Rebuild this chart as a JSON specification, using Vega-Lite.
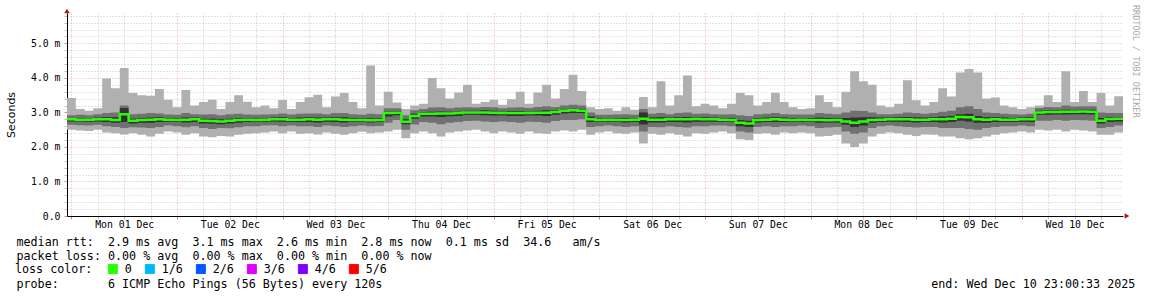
{
"$schema": "https://vega.github.io/schema/vega-lite/v6.json",
"width": 1056, "height": 203,
"autosize": {"type": "none"},
"padding": {"left": 67, "top": 13, "right": 29, "bottom": 81},
"background": "white",
"config": {"view": {"stroke": null}},
"title": {"text": "RRDTOOL / TOBI OETIKER", "orient": "right", "anchor": "start", "frame": "group", "color": "#aaaaaa", "font": "DejaVu Sans Mono", "fontSize": 8.5, "fontWeight": "normal", "offset": -3, "dx": -8},
"data": {"values": [
{"t":"2025-11-30T23:00:00Z","a":2.5,"b":2.64,"c":2.74,"m":2.8,"d":2.84,"e":2.92,"f":3.42},
{"t":"2025-12-01T01:00:00Z","a":2.48,"b":2.63,"c":2.74,"m":2.79,"d":2.84,"e":2.93,"f":3.1},
{"t":"2025-12-01T03:00:00Z","a":2.46,"b":2.62,"c":2.73,"m":2.79,"d":2.83,"e":2.92,"f":3.05},
{"t":"2025-12-01T05:00:00Z","a":2.5,"b":2.64,"c":2.74,"m":2.8,"d":2.85,"e":2.95,"f":3.12},
{"t":"2025-12-01T07:00:00Z","a":2.42,"b":2.6,"c":2.72,"m":2.8,"d":2.86,"e":2.98,"f":3.98},
{"t":"2025-12-01T09:00:00Z","a":2.4,"b":2.58,"c":2.7,"m":2.78,"d":2.86,"e":3.0,"f":3.7},
{"t":"2025-12-01T11:00:00Z","a":2.36,"b":2.55,"c":2.72,"m":2.95,"d":3.13,"e":3.2,"f":4.29},
{"t":"2025-12-01T13:00:00Z","a":2.4,"b":2.57,"c":2.68,"m":2.76,"d":2.82,"e":2.95,"f":3.56},
{"t":"2025-12-01T15:00:00Z","a":2.35,"b":2.56,"c":2.7,"m":2.78,"d":2.84,"e":2.96,"f":3.5},
{"t":"2025-12-01T17:00:00Z","a":2.3,"b":2.55,"c":2.7,"m":2.79,"d":2.85,"e":2.98,"f":3.48},
{"t":"2025-12-01T19:00:00Z","a":2.38,"b":2.58,"c":2.72,"m":2.8,"d":2.86,"e":2.97,"f":3.68},
{"t":"2025-12-01T21:00:00Z","a":2.45,"b":2.62,"c":2.73,"m":2.79,"d":2.84,"e":2.94,"f":3.37},
{"t":"2025-12-01T23:00:00Z","a":2.42,"b":2.6,"c":2.72,"m":2.78,"d":2.83,"e":2.93,"f":3.15},
{"t":"2025-12-02T01:00:00Z","a":2.35,"b":2.57,"c":2.71,"m":2.79,"d":2.85,"e":2.98,"f":3.65},
{"t":"2025-12-02T03:00:00Z","a":2.4,"b":2.6,"c":2.72,"m":2.8,"d":2.85,"e":2.95,"f":3.2},
{"t":"2025-12-02T05:00:00Z","a":2.3,"b":2.55,"c":2.68,"m":2.76,"d":2.82,"e":2.94,"f":3.3},
{"t":"2025-12-02T07:00:00Z","a":2.28,"b":2.52,"c":2.67,"m":2.75,"d":2.82,"e":2.95,"f":3.37},
{"t":"2025-12-02T09:00:00Z","a":2.32,"b":2.55,"c":2.66,"m":2.74,"d":2.8,"e":2.92,"f":3.1},
{"t":"2025-12-02T11:00:00Z","a":2.3,"b":2.54,"c":2.68,"m":2.76,"d":2.82,"e":2.95,"f":3.3},
{"t":"2025-12-02T13:00:00Z","a":2.35,"b":2.57,"c":2.7,"m":2.78,"d":2.84,"e":2.96,"f":3.5},
{"t":"2025-12-02T15:00:00Z","a":2.38,"b":2.6,"c":2.72,"m":2.79,"d":2.84,"e":2.94,"f":3.31},
{"t":"2025-12-02T17:00:00Z","a":2.4,"b":2.6,"c":2.72,"m":2.78,"d":2.83,"e":2.93,"f":3.15},
{"t":"2025-12-02T19:00:00Z","a":2.42,"b":2.62,"c":2.73,"m":2.79,"d":2.84,"e":2.94,"f":3.2},
{"t":"2025-12-02T21:00:00Z","a":2.45,"b":2.63,"c":2.74,"m":2.8,"d":2.85,"e":2.95,"f":3.12},
{"t":"2025-12-02T23:00:00Z","a":2.4,"b":2.6,"c":2.73,"m":2.8,"d":2.86,"e":2.97,"f":3.36},
{"t":"2025-12-03T01:00:00Z","a":2.45,"b":2.62,"c":2.73,"m":2.79,"d":2.84,"e":2.94,"f":3.1},
{"t":"2025-12-03T03:00:00Z","a":2.38,"b":2.6,"c":2.72,"m":2.79,"d":2.85,"e":2.96,"f":3.3},
{"t":"2025-12-03T05:00:00Z","a":2.4,"b":2.6,"c":2.72,"m":2.8,"d":2.86,"e":2.97,"f":3.44},
{"t":"2025-12-03T07:00:00Z","a":2.36,"b":2.58,"c":2.71,"m":2.79,"d":2.85,"e":2.97,"f":3.51},
{"t":"2025-12-03T09:00:00Z","a":2.42,"b":2.62,"c":2.73,"m":2.8,"d":2.85,"e":2.95,"f":3.15},
{"t":"2025-12-03T11:00:00Z","a":2.38,"b":2.6,"c":2.72,"m":2.8,"d":2.86,"e":2.98,"f":3.46},
{"t":"2025-12-03T13:00:00Z","a":2.35,"b":2.58,"c":2.71,"m":2.79,"d":2.86,"e":2.98,"f":3.56},
{"t":"2025-12-03T15:00:00Z","a":2.4,"b":2.6,"c":2.72,"m":2.78,"d":2.84,"e":2.95,"f":3.3},
{"t":"2025-12-03T17:00:00Z","a":2.44,"b":2.62,"c":2.72,"m":2.78,"d":2.83,"e":2.93,"f":3.12},
{"t":"2025-12-03T19:00:00Z","a":2.4,"b":2.6,"c":2.71,"m":2.77,"d":2.83,"e":2.96,"f":4.36},
{"t":"2025-12-03T21:00:00Z","a":2.42,"b":2.61,"c":2.72,"m":2.78,"d":2.84,"e":2.95,"f":3.2},
{"t":"2025-12-03T23:00:00Z","a":2.45,"b":2.7,"c":2.88,"m":2.98,"d":3.03,"e":3.12,"f":3.6},
{"t":"2025-12-04T01:00:00Z","a":2.5,"b":2.78,"c":2.92,"m":2.99,"d":3.04,"e":3.12,"f":3.29},
{"t":"2025-12-04T03:00:00Z","a":2.25,"b":2.5,"c":2.66,"m":2.73,"d":2.8,"e":2.92,"f":3.1},
{"t":"2025-12-04T05:00:00Z","a":2.4,"b":2.65,"c":2.82,"m":2.9,"d":2.96,"e":3.06,"f":3.2},
{"t":"2025-12-04T07:00:00Z","a":2.45,"b":2.72,"c":2.88,"m":2.96,"d":3.01,"e":3.1,"f":3.25},
{"t":"2025-12-04T09:00:00Z","a":2.4,"b":2.7,"c":2.88,"m":2.96,"d":3.02,"e":3.14,"f":4.0},
{"t":"2025-12-04T11:00:00Z","a":2.3,"b":2.66,"c":2.87,"m":2.97,"d":3.03,"e":3.15,"f":3.7},
{"t":"2025-12-04T13:00:00Z","a":2.42,"b":2.7,"c":2.89,"m":2.97,"d":3.02,"e":3.12,"f":3.4},
{"t":"2025-12-04T15:00:00Z","a":2.45,"b":2.72,"c":2.9,"m":2.98,"d":3.03,"e":3.14,"f":3.58},
{"t":"2025-12-04T17:00:00Z","a":2.48,"b":2.75,"c":2.93,"m":3.0,"d":3.05,"e":3.15,"f":3.8},
{"t":"2025-12-04T19:00:00Z","a":2.5,"b":2.76,"c":2.93,"m":3.0,"d":3.05,"e":3.14,"f":3.25},
{"t":"2025-12-04T21:00:00Z","a":2.45,"b":2.74,"c":2.92,"m":3.0,"d":3.06,"e":3.16,"f":3.3},
{"t":"2025-12-04T23:00:00Z","a":2.4,"b":2.72,"c":2.91,"m":2.99,"d":3.05,"e":3.15,"f":3.37},
{"t":"2025-12-05T01:00:00Z","a":2.45,"b":2.74,"c":2.91,"m":2.98,"d":3.03,"e":3.12,"f":3.22},
{"t":"2025-12-05T03:00:00Z","a":2.42,"b":2.72,"c":2.9,"m":2.98,"d":3.04,"e":3.14,"f":3.38},
{"t":"2025-12-05T05:00:00Z","a":2.38,"b":2.7,"c":2.9,"m":2.98,"d":3.04,"e":3.15,"f":3.6},
{"t":"2025-12-05T07:00:00Z","a":2.45,"b":2.73,"c":2.91,"m":2.98,"d":3.03,"e":3.13,"f":3.25},
{"t":"2025-12-05T09:00:00Z","a":2.4,"b":2.72,"c":2.91,"m":2.99,"d":3.05,"e":3.16,"f":3.58},
{"t":"2025-12-05T11:00:00Z","a":2.38,"b":2.7,"c":2.9,"m":2.99,"d":3.06,"e":3.18,"f":3.8},
{"t":"2025-12-05T13:00:00Z","a":2.45,"b":2.75,"c":2.93,"m":3.01,"d":3.06,"e":3.16,"f":3.4},
{"t":"2025-12-05T15:00:00Z","a":2.48,"b":2.78,"c":2.97,"m":3.05,"d":3.1,"e":3.2,"f":3.68},
{"t":"2025-12-05T17:00:00Z","a":2.45,"b":2.78,"c":2.98,"m":3.06,"d":3.11,"e":3.22,"f":4.09},
{"t":"2025-12-05T19:00:00Z","a":2.5,"b":2.8,"c":2.98,"m":3.05,"d":3.1,"e":3.2,"f":3.62},
{"t":"2025-12-05T21:00:00Z","a":2.35,"b":2.58,"c":2.72,"m":2.8,"d":2.88,"e":3.0,"f":3.15},
{"t":"2025-12-05T23:00:00Z","a":2.42,"b":2.6,"c":2.72,"m":2.78,"d":2.83,"e":2.93,"f":3.1},
{"t":"2025-12-06T01:00:00Z","a":2.45,"b":2.62,"c":2.73,"m":2.79,"d":2.84,"e":2.93,"f":3.12},
{"t":"2025-12-06T03:00:00Z","a":2.4,"b":2.6,"c":2.72,"m":2.78,"d":2.83,"e":2.94,"f":3.05},
{"t":"2025-12-06T05:00:00Z","a":2.38,"b":2.58,"c":2.71,"m":2.78,"d":2.84,"e":2.95,"f":3.15},
{"t":"2025-12-06T07:00:00Z","a":2.42,"b":2.6,"c":2.72,"m":2.79,"d":2.84,"e":2.93,"f":3.08},
{"t":"2025-12-06T09:00:00Z","a":2.1,"b":2.45,"c":2.65,"m":2.82,"d":3.0,"e":3.1,"f":3.45},
{"t":"2025-12-06T11:00:00Z","a":2.38,"b":2.58,"c":2.71,"m":2.79,"d":2.85,"e":2.96,"f":3.15},
{"t":"2025-12-06T13:00:00Z","a":2.35,"b":2.57,"c":2.71,"m":2.79,"d":2.86,"e":2.98,"f":3.9},
{"t":"2025-12-06T15:00:00Z","a":2.4,"b":2.6,"c":2.72,"m":2.8,"d":2.85,"e":2.95,"f":3.2},
{"t":"2025-12-06T17:00:00Z","a":2.35,"b":2.58,"c":2.72,"m":2.8,"d":2.86,"e":2.98,"f":3.5},
{"t":"2025-12-06T19:00:00Z","a":2.3,"b":2.56,"c":2.71,"m":2.8,"d":2.87,"e":3.0,"f":4.07},
{"t":"2025-12-06T21:00:00Z","a":2.4,"b":2.6,"c":2.73,"m":2.81,"d":2.86,"e":2.96,"f":3.18},
{"t":"2025-12-06T23:00:00Z","a":2.38,"b":2.6,"c":2.73,"m":2.8,"d":2.86,"e":2.97,"f":3.25},
{"t":"2025-12-07T01:00:00Z","a":2.42,"b":2.62,"c":2.73,"m":2.8,"d":2.85,"e":2.95,"f":3.2},
{"t":"2025-12-07T03:00:00Z","a":2.45,"b":2.62,"c":2.73,"m":2.79,"d":2.84,"e":2.94,"f":3.12},
{"t":"2025-12-07T05:00:00Z","a":2.4,"b":2.6,"c":2.72,"m":2.78,"d":2.84,"e":2.95,"f":3.25},
{"t":"2025-12-07T07:00:00Z","a":2.22,"b":2.45,"c":2.6,"m":2.7,"d":2.78,"e":2.92,"f":3.56},
{"t":"2025-12-07T09:00:00Z","a":2.2,"b":2.42,"c":2.58,"m":2.68,"d":2.76,"e":2.9,"f":3.5},
{"t":"2025-12-07T11:00:00Z","a":2.38,"b":2.58,"c":2.71,"m":2.78,"d":2.84,"e":2.95,"f":3.2},
{"t":"2025-12-07T13:00:00Z","a":2.4,"b":2.6,"c":2.72,"m":2.79,"d":2.85,"e":2.96,"f":3.3},
{"t":"2025-12-07T15:00:00Z","a":2.35,"b":2.58,"c":2.72,"m":2.8,"d":2.86,"e":2.98,"f":3.57},
{"t":"2025-12-07T17:00:00Z","a":2.42,"b":2.6,"c":2.72,"m":2.79,"d":2.85,"e":2.95,"f":3.3},
{"t":"2025-12-07T19:00:00Z","a":2.4,"b":2.6,"c":2.72,"m":2.78,"d":2.84,"e":2.94,"f":3.15},
{"t":"2025-12-07T21:00:00Z","a":2.42,"b":2.62,"c":2.73,"m":2.79,"d":2.84,"e":2.94,"f":3.1},
{"t":"2025-12-07T23:00:00Z","a":2.4,"b":2.6,"c":2.72,"m":2.78,"d":2.84,"e":2.94,"f":3.12},
{"t":"2025-12-08T01:00:00Z","a":2.3,"b":2.55,"c":2.7,"m":2.78,"d":2.85,"e":2.98,"f":3.5},
{"t":"2025-12-08T03:00:00Z","a":2.32,"b":2.56,"c":2.7,"m":2.77,"d":2.84,"e":2.96,"f":3.3},
{"t":"2025-12-08T05:00:00Z","a":2.35,"b":2.58,"c":2.71,"m":2.78,"d":2.84,"e":2.95,"f":3.15},
{"t":"2025-12-08T07:00:00Z","a":2.1,"b":2.45,"c":2.64,"m":2.74,"d":2.84,"e":3.0,"f":3.6},
{"t":"2025-12-08T09:00:00Z","a":2.0,"b":2.38,"c":2.58,"m":2.7,"d":2.85,"e":3.05,"f":4.19},
{"t":"2025-12-08T11:00:00Z","a":2.1,"b":2.42,"c":2.62,"m":2.74,"d":2.86,"e":3.04,"f":3.9},
{"t":"2025-12-08T13:00:00Z","a":2.3,"b":2.55,"c":2.7,"m":2.78,"d":2.86,"e":3.0,"f":3.8},
{"t":"2025-12-08T15:00:00Z","a":2.38,"b":2.6,"c":2.72,"m":2.79,"d":2.85,"e":2.95,"f":3.2},
{"t":"2025-12-08T17:00:00Z","a":2.42,"b":2.62,"c":2.73,"m":2.8,"d":2.85,"e":2.95,"f":3.15},
{"t":"2025-12-08T19:00:00Z","a":2.4,"b":2.6,"c":2.73,"m":2.8,"d":2.86,"e":2.96,"f":3.25},
{"t":"2025-12-08T21:00:00Z","a":2.35,"b":2.58,"c":2.72,"m":2.8,"d":2.87,"e":3.0,"f":3.93},
{"t":"2025-12-08T23:00:00Z","a":2.32,"b":2.56,"c":2.71,"m":2.79,"d":2.86,"e":2.98,"f":3.35},
{"t":"2025-12-09T01:00:00Z","a":2.36,"b":2.58,"c":2.72,"m":2.79,"d":2.85,"e":2.96,"f":3.2},
{"t":"2025-12-09T03:00:00Z","a":2.35,"b":2.58,"c":2.72,"m":2.8,"d":2.86,"e":2.98,"f":3.3},
{"t":"2025-12-09T05:00:00Z","a":2.3,"b":2.55,"c":2.71,"m":2.8,"d":2.88,"e":3.02,"f":3.7},
{"t":"2025-12-09T07:00:00Z","a":2.3,"b":2.55,"c":2.72,"m":2.82,"d":2.9,"e":3.05,"f":3.46},
{"t":"2025-12-09T09:00:00Z","a":2.25,"b":2.55,"c":2.76,"m":2.87,"d":2.95,"e":3.15,"f":4.16},
{"t":"2025-12-09T11:00:00Z","a":2.22,"b":2.52,"c":2.74,"m":2.86,"d":2.96,"e":3.18,"f":4.26},
{"t":"2025-12-09T13:00:00Z","a":2.25,"b":2.5,"c":2.7,"m":2.8,"d":2.9,"e":3.1,"f":4.16},
{"t":"2025-12-09T15:00:00Z","a":2.3,"b":2.55,"c":2.7,"m":2.79,"d":2.86,"e":3.0,"f":3.4},
{"t":"2025-12-09T17:00:00Z","a":2.35,"b":2.58,"c":2.72,"m":2.8,"d":2.86,"e":2.98,"f":3.43},
{"t":"2025-12-09T19:00:00Z","a":2.4,"b":2.6,"c":2.72,"m":2.79,"d":2.85,"e":2.96,"f":3.2},
{"t":"2025-12-09T21:00:00Z","a":2.42,"b":2.6,"c":2.72,"m":2.79,"d":2.84,"e":2.95,"f":3.15},
{"t":"2025-12-09T23:00:00Z","a":2.45,"b":2.62,"c":2.73,"m":2.8,"d":2.85,"e":2.94,"f":3.1},
{"t":"2025-12-10T01:00:00Z","a":2.42,"b":2.6,"c":2.72,"m":2.8,"d":2.86,"e":2.96,"f":3.15},
{"t":"2025-12-10T03:00:00Z","a":2.5,"b":2.76,"c":2.93,"m":3.0,"d":3.05,"e":3.13,"f":3.2},
{"t":"2025-12-10T05:00:00Z","a":2.48,"b":2.76,"c":2.93,"m":3.01,"d":3.06,"e":3.16,"f":3.5},
{"t":"2025-12-10T07:00:00Z","a":2.5,"b":2.78,"c":2.94,"m":3.01,"d":3.06,"e":3.15,"f":3.3},
{"t":"2025-12-10T09:00:00Z","a":2.45,"b":2.76,"c":2.94,"m":3.02,"d":3.08,"e":3.2,"f":4.19},
{"t":"2025-12-10T11:00:00Z","a":2.5,"b":2.78,"c":2.95,"m":3.02,"d":3.07,"e":3.17,"f":3.3},
{"t":"2025-12-10T13:00:00Z","a":2.48,"b":2.77,"c":2.95,"m":3.03,"d":3.08,"e":3.18,"f":3.62},
{"t":"2025-12-10T15:00:00Z","a":2.45,"b":2.76,"c":2.94,"m":3.02,"d":3.08,"e":3.18,"f":3.3},
{"t":"2025-12-10T17:00:00Z","a":2.35,"b":2.55,"c":2.68,"m":2.76,"d":2.84,"e":3.0,"f":3.56},
{"t":"2025-12-10T19:00:00Z","a":2.35,"b":2.58,"c":2.72,"m":2.81,"d":2.87,"e":2.98,"f":3.2},
{"t":"2025-12-10T21:00:00Z","a":2.42,"b":2.62,"c":2.74,"m":2.82,"d":2.87,"e":2.98,"f":3.47},
{"t":"2025-12-10T23:00:00Z","a":2.42,"b":2.62,"c":2.74,"m":2.82,"d":2.87,"e":2.98,"f":3.47}
]},
"layer": [
{
"mark": {"type": "area", "interpolate": "step-after", "color": "#b0b0b0"},
"encoding": {
"x": {"field": "t", "type": "temporal",
 "scale": {"type": "utc", "domain": [{"year": 2025, "month": 11, "date": 30, "hours": 23, "utc": true}, {"year": 2025, "month": 12, "date": 10, "hours": 23, "utc": true}]},
 "axis": {"orient": "bottom", "tickCount": 100,
  "values": [1764547200000,1764568800000,1764590400000,1764612000000,1764633600000,1764655200000,1764676800000,1764698400000,1764720000000,1764741600000,1764763200000,1764784800000,1764806400000,1764828000000,1764849600000,1764871200000,1764892800000,1764914400000,1764936000000,1764957600000,1764979200000,1765000800000,1765022400000,1765044000000,1765065600000,1765087200000,1765108800000,1765130400000,1765152000000,1765173600000,1765195200000,1765216800000,1765238400000,1765260000000,1765281600000,1765303200000,1765324800000,1765346400000,1765368000000,1765389600000],
  "labelExpr": "utchours(datum.value) == 12 ? utcFormat(datum.value, '%a %d %b') : ''",
  "labelFont": "DejaVu Sans Mono", "labelFontSize": 9.8, "labelColor": "black", "labelPadding": 0, "labelFlush": false, "labelOverlap": false,
  "ticks": true, "tickSize": 3,
  "tickColor": {"condition": {"test": "utchours(datum.value) == 0", "value": "#e08080"}, "value": "#c0c0c0"},
  "grid": true, "gridDash": [1, 2], "gridWidth": 1,
  "gridColor": {"condition": {"test": "utchours(datum.value) == 0", "value": "#eeaaaa"}, "value": "#c8c8c8"},
  "domainColor": "black", "domainWidth": 1,
  "title": ["median rtt:\u00a0 2.9 ms avg\u00a0 3.1 ms max\u00a0 2.6 ms min\u00a0 2.8 ms now\u00a0 0.1 ms sd\u00a0 34.6\u00a0\u00a0 am/s", "packet loss: 0.00 % avg\u00a0 0.00 % max\u00a0 0.00 % min\u00a0 0.00 % now", "\u2800", "probe:\u00a0\u00a0\u00a0\u00a0\u00a0\u00a0 6 ICMP Echo Pings (56 Bytes) every 120s\u00a0\u00a0\u00a0\u00a0\u00a0\u00a0\u00a0\u00a0\u00a0\u00a0\u00a0\u00a0\u00a0\u00a0\u00a0\u00a0\u00a0\u00a0\u00a0\u00a0\u00a0\u00a0\u00a0\u00a0\u00a0\u00a0\u00a0\u00a0\u00a0\u00a0\u00a0\u00a0\u00a0\u00a0\u00a0\u00a0\u00a0\u00a0\u00a0\u00a0\u00a0\u00a0\u00a0\u00a0\u00a0\u00a0\u00a0\u00a0\u00a0\u00a0\u00a0\u00a0\u00a0\u00a0\u00a0\u00a0\u00a0\u00a0\u00a0\u00a0\u00a0\u00a0\u00a0\u00a0\u00a0\u00a0\u00a0\u00a0\u00a0\u00a0\u00a0\u00a0\u00a0\u00a0\u00a0\u00a0\u00a0 end: Wed Dec 10 23:00:33 2025"],
  "titleAnchor": "start", "titleAlign": "left", "titleX": -51, "titleY": 29, "titleBaseline": "alphabetic",
  "titleFont": "DejaVu Sans Mono", "titleFontSize": 11.7, "titleFontWeight": "normal", "titleColor": "black", "titleLineHeight": 14}},
"y": {"field": "a", "type": "quantitative", "scale": {"domain": [0, 5.88], "nice": false, "zero": true},
 "axis": {"orient": "left", "tickCount": 100,
  "values": [0, 0.2, 0.4, 0.6, 0.8, 1, 1.2, 1.4, 1.6, 1.8, 2, 2.2, 2.4, 2.6, 2.8, 3, 3.2, 3.4, 3.6, 3.8, 4, 4.2, 4.4, 4.6, 4.8, 5, 5.2, 5.4, 5.6, 5.8],
  "labelExpr": "abs(datum.value - floor(datum.value + 0.5)) < 0.01 ? (datum.value < 0.5 ? '0.0' : format(datum.value, '.1f') + ' m') : ''",
  "labelFont": "DejaVu Sans Mono", "labelFontSize": 9.8, "labelColor": "black", "labelPadding": 4, "labelFlush": false, "labelOverlap": false,
  "ticks": true, "tickSize": 3,
  "tickColor": {"condition": {"test": "abs(datum.value - floor(datum.value + 0.5)) < 0.01", "value": "#e08080"}, "value": "#c0c0c0"},
  "grid": true, "gridDash": [1, 2], "gridWidth": 1,
  "gridColor": {"condition": {"test": "abs(datum.value - floor(datum.value + 0.5)) < 0.01", "value": "#eeaaaa"}, "value": "#c8c8c8"},
  "domainColor": "black", "domainWidth": 1,
  "title": "Seconds", "titleFont": "DejaVu Sans", "titleFontSize": 11, "titleFontWeight": "normal", "titleColor": "black",
  "titleX": -56, "titleY": 101.5, "titleAngle": -90, "titleBaseline": "middle", "titleAlign": "center"}},
"y2": {"field": "f"}
}
},
{
"mark": {"type": "area", "interpolate": "step-after", "color": "#717171"},
"encoding": {
"x": {"field": "t", "type": "temporal"},
"y": {"field": "b", "type": "quantitative"},
"y2": {"field": "e"}
}
},
{
"mark": {"type": "area", "interpolate": "step-after", "color": "#323232"},
"encoding": {
"x": {"field": "t", "type": "temporal"},
"y": {"field": "c", "type": "quantitative"},
"y2": {"field": "d"}
}
},
{
"mark": {"type": "line", "interpolate": "step-after", "strokeWidth": 2.5},
"encoding": {
"x": {"field": "t", "type": "temporal"},
"y": {"field": "m", "type": "quantitative"},
"color": {"datum": "0", "type": "nominal",
 "scale": {"domain": ["0", "1/6", "2/6", "3/6", "4/6", "5/6"], "range": ["#26ff00", "#00b8ff", "#0059ff", "#dd00ff", "#7e00ff", "#ff0000"]},
 "legend": {"orient": "none", "legendX": -52, "legendY": 250, "direction": "horizontal",
  "title": "loss color:", "titleOrient": "left", "titleFont": "DejaVu Sans Mono", "titleFontSize": 11.7, "titleFontWeight": "normal", "titleColor": "black", "titlePadding": 14,
  "labelFont": "DejaVu Sans Mono", "labelFontSize": 11.7, "labelColor": "black", "labelOffset": 6, "columnPadding": 11,
  "symbolType": "square", "symbolSize": 81, "symbolStrokeWidth": 1, "symbolStrokeColor": "black", "symbolOpacity": 1,
  "encode": {"symbols": {"update": {"fill": {"scale": "color", "field": "value"}, "fillOpacity": {"value": 1}, "stroke": {"value": "black"}}}}}}
}
},
{
"data": {"values": [{}]},
"mark": {"type": "point", "shape": "triangle-right", "filled": true, "size": 30, "color": "#a01c1c", "opacity": 1, "xOffset": 4},
"encoding": {
"x": {"datum": {"year": 2025, "month": 12, "date": 10, "hours": 23, "utc": true}, "type": "temporal"},
"y": {"datum": 0, "type": "quantitative"}
}
},
{
"data": {"values": [{}]},
"mark": {"type": "point", "shape": "triangle-up", "filled": true, "size": 30, "color": "#a01c1c", "opacity": 1, "yOffset": -2},
"encoding": {
"x": {"datum": {"year": 2025, "month": 11, "date": 30, "hours": 23, "utc": true}, "type": "temporal"},
"y": {"datum": 5.88, "type": "quantitative"}
}
}
]
}
